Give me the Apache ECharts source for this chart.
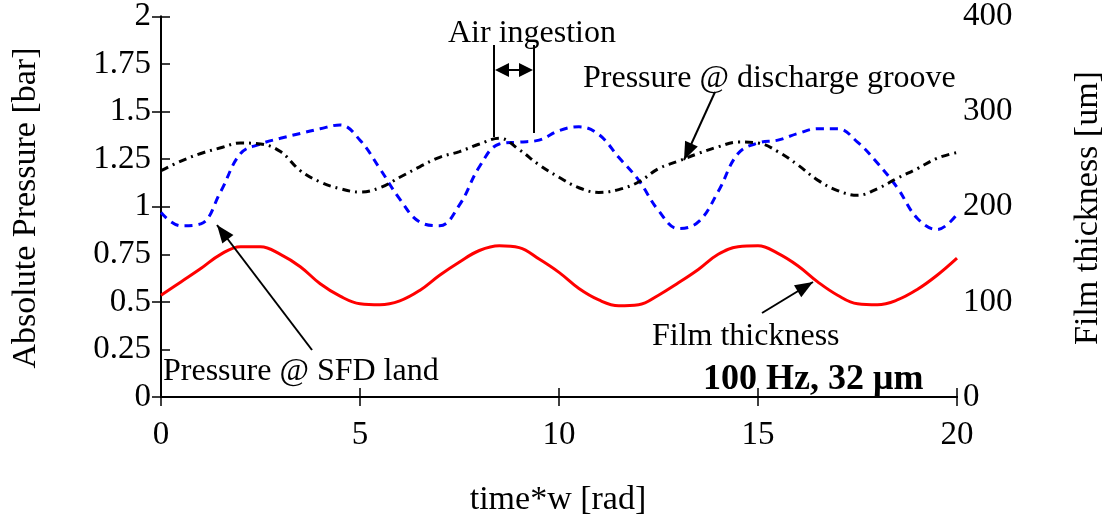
<!DOCTYPE html>
<html>
<head>
<meta charset="utf-8">
<script src="https://cdn.jsdelivr.net/npm/echarts@6/dist/echarts.min.js"></script>
<style>
  html, body { margin: 0; padding: 0; background: #fff; }
  #main { width: 1109px; height: 516px; }
</style>
</head>
<body>
<div id="main"></div>
<script>
// time*w [rad], sampled every 0.5
var timeW = [0, 0.5, 1, 1.5, 2, 2.5, 3, 3.5, 4, 4.5, 5, 5.5, 6, 6.5, 7, 7.5, 8, 8.5, 9, 9.5,
  10, 10.5, 11, 11.5, 12, 12.5, 13, 13.5, 14, 14.5, 15, 15.5, 16, 16.5, 17, 17.5, 18, 18.5, 19, 19.5, 20];

// pressure @ SFD land [bar] (blue dashed)
var pLand = [0.97, 0.90, 0.91, 1.08, 1.28, 1.33, 1.36, 1.385, 1.41, 1.43, 1.35, 1.20, 1.04, 0.92, 0.90, 1.01,
  1.21, 1.33, 1.34, 1.35, 1.40, 1.42, 1.38, 1.26, 1.14, 0.98, 0.885, 0.92, 1.08, 1.28, 1.335, 1.35,
  1.385, 1.41, 1.41, 1.34, 1.23, 1.10, 0.94, 0.88, 0.96];

// pressure @ discharge groove [bar] (black dash-dot)
var pGroove = [1.19, 1.24, 1.28, 1.31, 1.335, 1.33, 1.29, 1.19, 1.13, 1.095, 1.077, 1.10, 1.155, 1.21, 1.26, 1.29,
  1.33, 1.36, 1.30, 1.22, 1.155, 1.10, 1.075, 1.09, 1.13, 1.20, 1.24, 1.28, 1.315, 1.34, 1.335, 1.29,
  1.22, 1.14, 1.085, 1.06, 1.095, 1.15, 1.20, 1.255, 1.285];

// film thickness [um] (red, right axis)
var film = [107, 121, 135, 150, 158, 158, 150, 137, 119, 106, 98, 97, 101, 112, 128, 142,
  154, 159, 157, 145, 131, 114, 102, 96, 97, 107, 120, 134, 150, 158, 159, 151,
  138, 121, 107, 98, 97, 102, 113, 128, 146];

function pairs(ys) {
  var out = [];
  for (var i = 0; i < timeW.length; i++) out.push([timeW[i], ys[i]]);
  return out;
}

var FONT = 'Liberation Serif';

// y is the text baseline; converted to a middle anchor
function txt(s, x, y, opts) {
  opts = opts || {};
  var size = opts.size || 32;
  return {
    type: 'text', x: x, y: opts.rotation ? y : y - Math.round(size * 0.2), rotation: opts.rotation || 0, z: 100,
    style: {
      text: s, fill: '#000',
      font: (opts.weight || 'normal') + ' ' + size + 'px "' + FONT + '"',
      align: opts.align || 'left', verticalAlign: 'middle'
    }
  };
}

function head(x1, y1, x2, y2, len, wid) {
  var a = Math.atan2(y2 - y1, x2 - x1);
  var bx = x2 - len * Math.cos(a), by = y2 - len * Math.sin(a);
  var nx = -Math.sin(a) * wid / 2, ny = Math.cos(a) * wid / 2;
  return {
    type: 'polygon', z: 100,
    shape: { points: [[x2, y2], [bx + nx, by + ny], [bx - nx, by - ny]] },
    style: { fill: '#000' }
  };
}

function arrow(x1, y1, x2, y2) {
  return [
    { type: 'line', z: 100, shape: { x1: x1, y1: y1, x2: x2, y2: y2 }, style: { stroke: '#000', lineWidth: 2 } },
    head(x1, y1, x2, y2, 18, 14)
  ];
}

var chartDom = document.getElementById('main');
var myChart = echarts.init(chartDom);
var option;

var graphics = [
  txt('Absolute Pressure [bar]', 26, 208, { rotation: Math.PI / 2, align: 'center', size: 34 }),
  txt('Film thickness [um]', 1088, 208, { rotation: Math.PI / 2, align: 'center', size: 34 }),
  txt('time*w [rad]', 558, 507, { align: 'center', size: 34 }),
  txt('Air ingestion', 448, 40),
  txt('Pressure @ discharge groove', 583, 85),
  txt('Pressure @ SFD land', 163, 378),
  txt('Film thickness', 652, 343),
  txt('100 Hz, 32 \u03bcm', 703, 387, { weight: 'bold', size: 36 }),
  { type: 'line', z: 100, shape: { x1: 494, y1: 45, x2: 494, y2: 137 }, style: { stroke: '#000', lineWidth: 2 } },
  { type: 'line', z: 100, shape: { x1: 534, y1: 45, x2: 534, y2: 133 }, style: { stroke: '#000', lineWidth: 2 } },
  { type: 'line', z: 100, shape: { x1: 500, y1: 70, x2: 528, y2: 70 }, style: { stroke: '#000', lineWidth: 2 } },
  head(514, 70, 495, 70, 14, 14),
  head(514, 70, 533, 70, 14, 14)
].concat(arrow(715, 92, 684, 160))
 .concat(arrow(312, 350, 217, 225))
 .concat(arrow(762, 313, 813, 282));

var axisText = { color: '#000', fontFamily: FONT, fontSize: 33 };

option = {
  animation: false,
  backgroundColor: '#fff',
  grid: { left: 161, right: 152, top: 16, bottom: 119, containLabel: false },
  xAxis: [
    {
      type: 'value', min: 0, max: 20, interval: 5, position: 'bottom',
      axisLine: { show: true, lineStyle: { color: '#000', width: 2 } },
      axisTick: { show: true, inside: true, length: 9, lineStyle: { color: '#000', width: 1.5 } },
      axisLabel: Object.assign({ margin: 22 }, axisText),
      splitLine: { show: false }
    },
    {
      type: 'value', min: 0, max: 20, interval: 5, position: 'top',
      axisLine: { show: true, lineStyle: { color: '#000', width: 2 } },
      axisTick: { show: true, inside: true, length: 9, lineStyle: { color: '#000', width: 1.5 } },
      axisLabel: { show: false },
      splitLine: { show: false }
    }
  ],
  yAxis: [
    {
      type: 'value', min: 0, max: 2, interval: 0.25, position: 'left',
      axisLine: { show: true, lineStyle: { color: '#000', width: 2 } },
      axisTick: { show: true, inside: true, length: 9, lineStyle: { color: '#000', width: 1.5 } },
      axisLabel: Object.assign({ margin: 10, padding: [8, 0, 0, 0] }, axisText),
      splitLine: { show: false }
    },
    {
      type: 'value', min: 0, max: 400, interval: 100, position: 'right',
      axisLine: { show: true, lineStyle: { color: '#000', width: 2 } },
      axisTick: { show: true, inside: true, length: 9, lineStyle: { color: '#000', width: 1.5 } },
      axisLabel: Object.assign({ margin: 6, padding: [8, 0, 0, 0] }, axisText),
      splitLine: { show: false }
    }
  ],
  series: [
    {
      name: 'Film thickness', type: 'line', yAxisIndex: 1, data: pairs(film),
      smooth: 0.4, symbol: 'none',
      lineStyle: { color: '#ff0000', width: 3 }
    },
    {
      name: 'Pressure @ SFD land', type: 'line', yAxisIndex: 0, data: pairs(pLand),
      smooth: 0.4, symbol: 'none',
      lineStyle: { color: '#0000ff', width: 3, type: [8, 6] }
    },
    {
      name: 'Pressure @ discharge groove', type: 'line', yAxisIndex: 0, data: pairs(pGroove),
      smooth: 0.4, symbol: 'none',
      lineStyle: { color: '#000', width: 3, type: [8, 5, 2, 5] }
    }
  ],
  graphic: graphics
};

option && myChart.setOption(option);
</script>
</body>
</html>
